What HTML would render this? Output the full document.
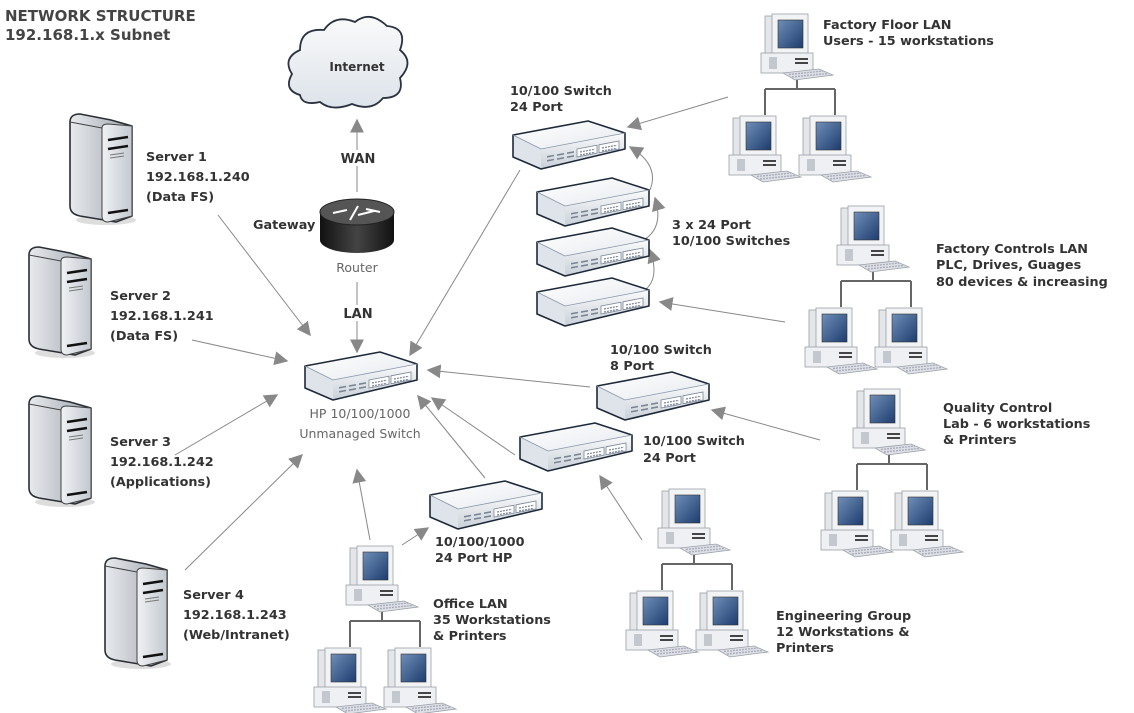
<!DOCTYPE html>
<html><head><meta charset="utf-8"><style>
html,body{margin:0;padding:0;background:#fff;}
svg{display:block;}
.b{font-family:"DejaVu Sans","Liberation Sans",sans-serif;font-weight:bold;font-size:12.8px;fill:#333;}
.n{font-family:"DejaVu Sans","Liberation Sans",sans-serif;font-size:12.5px;fill:#666;}
.t{font-family:"DejaVu Sans","Liberation Sans",sans-serif;font-weight:bold;font-size:15px;fill:#444;}
.ln{stroke:#888;stroke-width:1;fill:none;}
.tree{stroke:#666;stroke-width:2;fill:none;}
</style></head><body>
<svg width="1134" height="713" viewBox="0 0 1134 713" xmlns="http://www.w3.org/2000/svg">
<defs>
<linearGradient id="gf" x1="0" y1="0" x2="0" y2="1"><stop offset="0" stop-color="#fafbfc"/><stop offset="1" stop-color="#c9d0d8"/></linearGradient>
<linearGradient id="gt" x1="0" y1="0" x2="1" y2="1"><stop offset="0" stop-color="#ffffff"/><stop offset="1" stop-color="#e6eaef"/></linearGradient>
<linearGradient id="scr" x1="0" y1="0" x2="1" y2="1"><stop offset="0" stop-color="#6f8fb8"/><stop offset="1" stop-color="#1d3c6e"/></linearGradient>
<linearGradient id="srv" x1="0" y1="0" x2="1" y2="0"><stop offset="0" stop-color="#f0f2f4"/><stop offset="1" stop-color="#c3c9d0"/></linearGradient>
<linearGradient id="srvl" x1="0" y1="0" x2="1" y2="0"><stop offset="0" stop-color="#e8eaed"/><stop offset="1" stop-color="#9ea5ae"/></linearGradient>
<linearGradient id="rt" x1="0" y1="0" x2="1" y2="0"><stop offset="0" stop-color="#111"/><stop offset=".5" stop-color="#444"/><stop offset="1" stop-color="#111"/></linearGradient>
<linearGradient id="cl" x1="0" y1="0" x2="0" y2="1"><stop offset="0" stop-color="#fafafa"/><stop offset="1" stop-color="#dde3ea"/></linearGradient>
<marker id="ah" viewBox="0 0 10 10" refX="9" refY="5" markerWidth="14" markerHeight="14" markerUnits="userSpaceOnUse" orient="auto"><path d="M0,0 L10,5 L0,10 Z" fill="#888"/></marker>

<g id="sw">
<path d="M0,14 L75,0 L112,12 L28,28 Z" fill="url(#gt)"/>
<path d="M0,14 L28,28 L28,48 L0,36 Z" fill="#dfe4ea"/>
<path d="M28,28 L112,12 L112,28 L28,48 Z" fill="url(#gf)"/>
<path d="M0,14 L75,0 L112,12 L112,28 L28,48 L0,36 Z" fill="none" stroke="#1e2a3a" stroke-width="1.6" stroke-linejoin="round"/>
<path d="M0,14 L28,28 L112,12" fill="none" stroke="#8896a8" stroke-width=".8"/>
<g fill="#7a8594">
<path d="M34,39 l7,-1.3 v1.6 l-7,1.3z M34,35 l7,-1.3 v1.6 l-7,1.3z"/>
<path d="M44,37.3 l7,-1.3 v1.6 l-7,1.3z M44,33.3 l7,-1.3 v1.6 l-7,1.3z"/>
<path d="M54,35.4 l7,-1.3 v1.6 l-7,1.3z M54,31.4 l7,-1.3 v1.6 l-7,1.3z"/>
</g>
<path d="M64,28 l20,-3.8 v8 l-20,3.8z M86,23.8 l20,-3.8 v8 l-20,3.8z" fill="#fff" stroke="#7a8594" stroke-width=".8"/>
<path d="M67,31 l15,-2.8 M67,34 l15,-2.8 M89,27 l15,-2.8 M89,30 l15,-2.8" stroke="#7a8594" stroke-width="1.2" stroke-dasharray="2,1"/>
</g>

<g id="pc">
<rect x="4" y="3" width="14" height="38" fill="#e4e6e9" stroke="#9aa0a8" stroke-width=".8"/>
<rect x="11" y="1" width="36" height="40" fill="#f2f3f5" stroke="#9aa0a8" stroke-width=".8"/>
<rect x="17" y="7" width="25" height="28" fill="url(#scr)" stroke="#333" stroke-width=".6"/>
<rect x="0" y="40" width="52" height="20" fill="#eef0f3" stroke="#9aa0a8" stroke-width=".8"/>
<rect x="8" y="44" width="8" height="12" fill="#c3c8cf"/>
<path d="M34,46 h13 M34,50 h13" stroke="#444" stroke-width="2"/>
<path d="M22,60 L58,56 L72,62 L34,67 Z" fill="#dde1e6" stroke="#9aa0a8" stroke-width=".8"/>
<path d="M28,61.5 L62,58 M31,64 L66,60.5" stroke="#aab" stroke-width="1.4" stroke-dasharray="2,1"/>
</g>

<g id="grp">
<path class="tree" d="M36,65 V76 M4,76 H74 M4,76 V102 M74,76 V102"/>
<use href="#pc" x="0" y="0"/>
<use href="#pc" x="-32" y="102"/>
<use href="#pc" x="38" y="102"/>
</g>

<g id="srvr">
<ellipse cx="40" cy="108" rx="30" ry="5" fill="#bbb" opacity=".5"/>
<path d="M4,10 Q4,2 14,2 L45,8 L66,14 L66,104 L50,110 L14,104 Q4,102 4,94 Z" fill="url(#srvl)" stroke="#2a2f36" stroke-width="1.6" stroke-linejoin="round"/>
<path d="M36,16 Q36,12 42,12 L66,14 L66,104 L42,110 Q36,110 36,104 Z" fill="url(#srv)" stroke="#444" stroke-width="1"/>
<path d="M4,10 L36,16" stroke="#444" stroke-width="1"/>
<path d="M42,28 L62,25 M42,37 L62,34" stroke="#111" stroke-width="2.5"/>
<path d="M44,43 L58,41 M44,46 L58,44" stroke="#777" stroke-width="1"/>
<path d="M42,101 L62,98" stroke="#111" stroke-width="2.5"/>
</g>
</defs>

<text class="t" x="5" y="21">NETWORK STRUCTURE</text>
<text class="t" x="5" y="40">192.168.1.x Subnet</text>

<path d="M300,95 Q283,90 292,74 Q282,58 300,50 Q300,28 324,30 Q335,14 355,22 Q370,10 387,26 Q408,28 400,50 Q415,62 400,78 Q405,98 383,98 Q372,112 352,104 Q332,112 320,102 Q302,106 300,95 Z" fill="url(#cl)" stroke="#2a3340" stroke-width="1.8"/>
<text class="b" x="357" y="71" text-anchor="middle" style="font-size:12px">Internet</text>

<path d="M320,212 V240 A37,13 0 0 0 394,240 V212 Z" fill="url(#rt)"/>
<ellipse cx="357" cy="212" rx="37" ry="13" fill="#555" stroke="#222"/>
<path d="M333,213 l14,-3 M358,215 l16,-4 M350,220 l8,-14 M366,209 l14,3" stroke="#fff" stroke-width="2"/>
<text class="b" x="253" y="229">Gateway</text>
<text class="n" x="357" y="272" text-anchor="middle">Router</text>

<line class="ln" x1="357" y1="192" x2="357" y2="120" marker-end="url(#ah)"/>
<rect x="338" y="150" width="40" height="16" fill="#fff"/>
<text class="b" x="358" y="163" text-anchor="middle" style="font-size:13px">WAN</text>
<line class="ln" x1="357" y1="282" x2="357" y2="352" marker-end="url(#ah)"/>
<rect x="340" y="305" width="36" height="16" fill="#fff"/>
<text class="b" x="358" y="318" text-anchor="middle" style="font-size:13px">LAN</text>

<line class="ln" x1="218" y1="215" x2="310" y2="335" marker-end="url(#ah)"/>
<line class="ln" x1="192" y1="340" x2="287" y2="361" marker-end="url(#ah)"/>
<line class="ln" x1="175" y1="455" x2="277" y2="395" marker-end="url(#ah)"/>
<line class="ln" x1="185" y1="570" x2="302" y2="455" marker-end="url(#ah)"/>
<line class="ln" x1="520" y1="170" x2="410" y2="355" marker-end="url(#ah)"/>
<line class="ln" x1="590" y1="387" x2="428" y2="370" marker-end="url(#ah)"/>
<line class="ln" x1="515" y1="455" x2="432" y2="398" marker-end="url(#ah)"/>
<line class="ln" x1="485" y1="478" x2="418" y2="396" marker-end="url(#ah)"/>
<line class="ln" x1="370" y1="540" x2="357" y2="470" marker-end="url(#ah)"/>
<line class="ln" x1="402" y1="545" x2="428" y2="528" marker-end="url(#ah)"/>
<line class="ln" x1="728" y1="97" x2="628" y2="127" marker-end="url(#ah)"/>
<line class="ln" x1="785" y1="322" x2="660" y2="302" marker-end="url(#ah)"/>
<line class="ln" x1="820" y1="440" x2="712" y2="410" marker-end="url(#ah)"/>
<line class="ln" x1="642" y1="540" x2="600" y2="476" marker-end="url(#ah)"/>
<path class="ln" d="M650,190 Q660,165 630,147" marker-end="url(#ah)"/>
<path class="ln" d="M640,242 Q665,230 655,198" marker-end="url(#ah)"/>
<path class="ln" d="M645,290 Q660,278 650,250" marker-end="url(#ah)"/>

<use href="#sw" x="305" y="352"/>
<text class="n" x="360" y="418" text-anchor="middle">HP 10/100/1000</text>
<text class="n" x="360" y="438" text-anchor="middle">Unmanaged Switch</text>
<use href="#sw" x="513" y="121"/>
<use href="#sw" x="537" y="178"/>
<use href="#sw" x="537" y="228"/>
<use href="#sw" x="537" y="278"/>
<use href="#sw" x="597" y="372"/>
<use href="#sw" x="520" y="423"/>
<use href="#sw" x="430" y="481"/>

<use href="#srvr" x="66" y="112"/>
<use href="#srvr" x="25" y="245"/>
<use href="#srvr" x="25" y="394"/>
<use href="#srvr" x="101" y="556"/>

<g class="b">
<text x="146" y="161">Server 1</text><text x="146" y="181">192.168.1.240</text><text x="146" y="201">(Data FS)</text>
<text x="110" y="300">Server 2</text><text x="110" y="320">192.168.1.241</text><text x="110" y="340">(Data FS)</text>
<text x="110" y="446">Server 3</text><text x="110" y="466">192.168.1.242</text><text x="110" y="486">(Applications)</text>
<text x="183" y="599">Server 4</text><text x="183" y="619">192.168.1.243</text><text x="183" y="639">(Web/Intranet)</text>
<text x="510" y="95">10/100 Switch</text><text x="510" y="111">24 Port</text>
<text x="672" y="229">3 x 24 Port</text><text x="672" y="245">10/100 Switches</text>
<text x="610" y="354">10/100 Switch</text><text x="610" y="370">8 Port</text>
<text x="643" y="445">10/100 Switch</text><text x="643" y="462">24 Port</text>
<text x="435" y="546">10/100/1000</text><text x="435" y="562">24 Port HP</text>
<text x="823" y="29">Factory Floor LAN</text><text x="823" y="45">Users - 15 workstations</text>
<text x="936" y="253">Factory Controls LAN</text><text x="936" y="269">PLC, Drives, Guages</text><text x="936" y="286">80 devices &amp; increasing</text>
<text x="943" y="412">Quality Control</text><text x="943" y="428">Lab - 6 workstations</text><text x="943" y="444">&amp; Printers</text>
<text x="433" y="608">Office LAN</text><text x="433" y="624">35 Workstations</text><text x="433" y="640">&amp; Printers</text>
<text x="776" y="620">Engineering Group</text><text x="776" y="636">12 Workstations &amp;</text><text x="776" y="652">Printers</text>
</g>

<use href="#grp" x="761" y="13"/>
<use href="#grp" x="837" y="205"/>
<use href="#grp" x="853" y="388"/>
<use href="#grp" x="658" y="488"/>
<use href="#grp" x="346" y="545"/>
</svg>
</body></html>
